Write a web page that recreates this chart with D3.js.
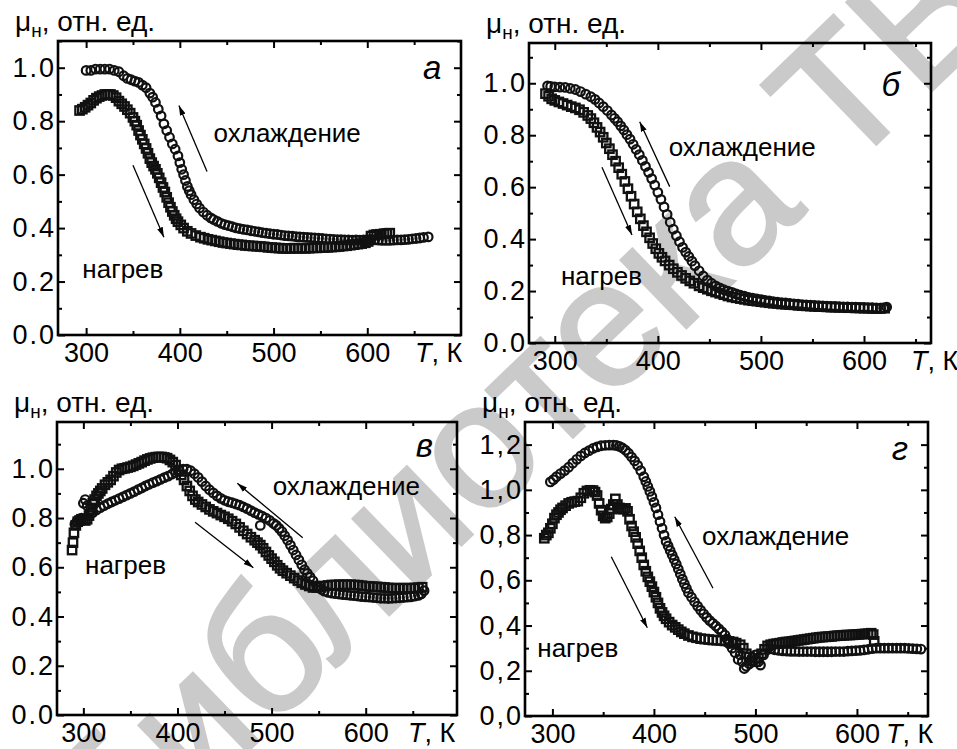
<!DOCTYPE html>
<html>
<head>
<meta charset="utf-8">
<script src="https://cdn.jsdelivr.net/npm/d3@7"></script>
<style>
  body { margin: 0; background: #fff; }
  svg { font-family: "Liberation Sans", Arial, sans-serif; }
</style>
</head>
<body>
<svg id="chart" width="957" height="749"></svg>
<script>
// ---- data: [T (K), mu_n (rel. units)] ----
// panel а
const aHeat = [[293,0.84],[296,0.845],[299,0.852],[302,0.86],[305,0.868],[308,0.878],[311,0.886],[314,0.892],[317,0.896],[320,0.9],[323,0.9],[326,0.9],[329,0.896],[332,0.888],[335,0.875],[338,0.865],[341,0.855],[344,0.843],[347,0.83],[350,0.814],[352,0.8],[354,0.785],[356,0.765],[358,0.748],[360,0.732],[362,0.715],[364,0.698],[366,0.68],[368,0.66],[370,0.645],[372,0.632],[374,0.62],[376,0.605],[378,0.588],[380,0.57],[382,0.552],[384,0.535],[386,0.515],[388,0.495],[390,0.478],[392,0.462],[394,0.448],[396,0.435],[398,0.424],[401,0.412],[404,0.4],[408,0.388],[412,0.38],[417,0.372],[422,0.366],[426,0.362],[430,0.358],[434,0.355],[438,0.352],[442,0.349],[446,0.346],[450,0.344],[454,0.342],[458,0.34],[462,0.338],[466,0.337],[470,0.335],[474,0.334],[478,0.333],[482,0.332],[486,0.331],[490,0.33],[494,0.328],[498,0.327],[502,0.326],[506,0.325],[510,0.324],[514,0.324],[518,0.324],[522,0.325],[526,0.324],[530,0.325],[534,0.324],[538,0.325],[542,0.326],[546,0.326],[550,0.327],[554,0.327],[558,0.328],[562,0.329],[566,0.33],[570,0.331],[574,0.333],[578,0.334],[582,0.336],[586,0.338],[590,0.34],[594,0.342],[598,0.345],[601,0.35],[604,0.37],[607,0.374],[610,0.376],[614,0.377],[618,0.379],[621,0.38],[624,0.381]];
const aCool = [[300,0.99],[305,0.99],[310,0.995],[315,0.995],[320,0.995],[325,0.995],[330,0.99],[335,0.985],[340,0.97],[344,0.96],[348,0.955],[352,0.95],[356,0.945],[360,0.935],[364,0.925],[368,0.905],[371,0.89],[374,0.87],[377,0.845],[380,0.82],[383,0.79],[386,0.765],[389,0.74],[392,0.715],[395,0.695],[398,0.67],[400,0.645],[402,0.62],[404,0.6],[406,0.578],[408,0.556],[410,0.54],[412,0.525],[415,0.506],[418,0.49],[421,0.475],[425,0.46],[429,0.448],[433,0.438],[436,0.432],[440,0.425],[444,0.418],[448,0.413],[452,0.409],[456,0.405],[460,0.401],[464,0.398],[468,0.395],[472,0.393],[476,0.39],[480,0.388],[484,0.386],[488,0.383],[492,0.381],[496,0.379],[500,0.377],[504,0.376],[508,0.374],[512,0.372],[516,0.371],[520,0.37],[524,0.368],[528,0.367],[532,0.366],[536,0.365],[540,0.364],[544,0.363],[548,0.362],[552,0.361],[556,0.36],[560,0.359],[564,0.358],[568,0.357],[572,0.357],[576,0.356],[580,0.356],[584,0.355],[588,0.356],[592,0.355],[596,0.356],[600,0.357],[604,0.358],[608,0.356],[612,0.355],[616,0.354],[620,0.354],[624,0.354],[628,0.355],[632,0.356],[636,0.356],[640,0.357],[644,0.358],[648,0.36],[652,0.361],[656,0.363],[660,0.365],[665,0.367]];
// panel б
const bHeat = [[291,0.96],[294,0.95],[297,0.94],[300,0.934],[304,0.928],[308,0.922],[312,0.916],[316,0.91],[320,0.905],[324,0.898],[328,0.888],[332,0.876],[335,0.864],[338,0.848],[341,0.83],[344,0.812],[347,0.792],[350,0.77],[353,0.748],[356,0.725],[359,0.7],[362,0.675],[365,0.65],[368,0.622],[371,0.594],[374,0.565],[377,0.535],[380,0.505],[383,0.478],[386,0.452],[389,0.428],[392,0.405],[395,0.383],[398,0.363],[401,0.345],[404,0.33],[407,0.316],[411,0.3],[415,0.286],[419,0.272],[423,0.26],[427,0.249],[431,0.239],[435,0.23],[440,0.22],[444,0.213],[448,0.207],[452,0.201],[456,0.196],[460,0.191],[464,0.186],[468,0.181],[472,0.177],[476,0.174],[480,0.171],[484,0.168],[488,0.165],[492,0.163],[496,0.161],[500,0.159],[504,0.157],[508,0.155],[512,0.153],[516,0.152],[520,0.15],[524,0.149],[528,0.148],[532,0.147],[536,0.145],[540,0.144],[544,0.143],[548,0.142],[552,0.141],[556,0.14],[560,0.14],[564,0.139],[568,0.138],[572,0.138],[576,0.137],[580,0.137],[584,0.136],[588,0.136],[592,0.135],[596,0.135],[600,0.134],[604,0.134],[608,0.133],[612,0.133],[616,0.133],[620,0.134]];
const bCool = [[293,0.99],[296,0.988],[300,0.986],[305,0.985],[310,0.984],[315,0.98],[320,0.976],[325,0.968],[330,0.958],[335,0.948],[339,0.938],[343,0.924],[347,0.91],[351,0.895],[355,0.878],[358,0.865],[361,0.852],[364,0.836],[367,0.82],[370,0.802],[373,0.785],[376,0.765],[379,0.745],[382,0.725],[385,0.703],[388,0.68],[391,0.657],[394,0.633],[397,0.608],[400,0.58],[403,0.553],[406,0.524],[409,0.495],[412,0.465],[415,0.438],[418,0.413],[421,0.39],[424,0.368],[427,0.35],[430,0.333],[433,0.315],[436,0.298],[440,0.278],[444,0.258],[448,0.242],[452,0.23],[456,0.22],[460,0.212],[464,0.205],[468,0.2],[472,0.195],[476,0.189],[480,0.184],[484,0.18],[488,0.176],[492,0.173],[496,0.17],[500,0.167],[504,0.164],[508,0.162],[512,0.159],[516,0.157],[520,0.155],[524,0.154],[528,0.152],[532,0.151],[536,0.15],[540,0.148],[544,0.147],[548,0.146],[552,0.145],[556,0.144],[560,0.143],[564,0.142],[568,0.141],[572,0.141],[576,0.14],[580,0.139],[584,0.139],[588,0.138],[592,0.138],[596,0.137],[600,0.137],[604,0.136],[608,0.136],[612,0.135],[616,0.134],[619,0.135],[622,0.138]];
// panel в
const vHeat = [[288,0.67],[289,0.7],[290,0.74],[292,0.77],[294,0.785],[296,0.79],[298,0.795],[300,0.795],[302,0.79],[304,0.795],[306,0.81],[308,0.835],[310,0.86],[312,0.875],[314,0.89],[316,0.9],[318,0.91],[320,0.92],[323,0.935],[326,0.945],[329,0.955],[332,0.97],[335,0.985],[338,0.995],[341,1.0],[344,1.002],[347,1.005],[350,1.008],[353,1.012],[356,1.017],[359,1.022],[362,1.027],[365,1.033],[368,1.038],[371,1.042],[374,1.045],[377,1.047],[380,1.048],[383,1.048],[386,1.046],[389,1.043],[392,1.036],[395,1.027],[398,1.015],[401,0.995],[404,0.975],[407,0.955],[410,0.93],[413,0.91],[416,0.89],[419,0.875],[422,0.865],[426,0.855],[430,0.845],[434,0.835],[438,0.827],[442,0.82],[446,0.812],[450,0.805],[454,0.797],[458,0.787],[462,0.776],[466,0.762],[470,0.748],[474,0.735],[478,0.722],[482,0.71],[485,0.7],[488,0.69],[491,0.677],[494,0.662],[497,0.648],[500,0.635],[503,0.622],[506,0.608],[509,0.596],[512,0.586],[516,0.576],[520,0.566],[524,0.556],[528,0.546],[532,0.537],[536,0.53],[540,0.524],[544,0.518],[548,0.518],[552,0.521],[556,0.524],[560,0.526],[564,0.528],[568,0.528],[572,0.529],[576,0.529],[580,0.529],[584,0.529],[588,0.528],[592,0.527],[596,0.525],[600,0.523],[604,0.522],[608,0.521],[612,0.52],[616,0.519],[620,0.518],[624,0.516],[628,0.515],[632,0.515],[636,0.515],[640,0.515],[644,0.515],[648,0.515],[652,0.516],[656,0.517],[660,0.519]];
const vCool = [[662,0.505],[659,0.492],[656,0.486],[652,0.483],[648,0.48],[644,0.479],[640,0.477],[636,0.476],[632,0.475],[628,0.474],[624,0.473],[620,0.474],[616,0.474],[612,0.476],[608,0.477],[604,0.479],[600,0.48],[596,0.481],[592,0.483],[588,0.485],[584,0.486],[580,0.488],[576,0.489],[572,0.491],[568,0.493],[564,0.495],[560,0.498],[556,0.503],[553,0.51],[550,0.517],[548,0.525],[544,0.545],[541,0.56],[538,0.575],[535,0.59],[532,0.61],[529,0.63],[526,0.65],[523,0.67],[520,0.69],[517,0.71],[514,0.728],[511,0.745],[508,0.758],[505,0.77],[502,0.778],[498,0.79],[494,0.8],[490,0.808],[488,0.77],[486,0.815],[482,0.822],[478,0.83],[474,0.838],[470,0.845],[466,0.852],[462,0.857],[458,0.862],[454,0.866],[450,0.872],[446,0.88],[442,0.89],[438,0.902],[434,0.915],[430,0.93],[426,0.948],[422,0.965],[418,0.98],[414,0.992],[410,0.998],[406,0.998],[402,0.992],[398,0.985],[394,0.978],[390,0.97],[386,0.964],[382,0.957],[378,0.95],[374,0.944],[370,0.937],[366,0.93],[362,0.922],[358,0.915],[354,0.907],[350,0.9],[346,0.893],[342,0.886],[338,0.879],[334,0.872],[330,0.865],[326,0.858],[322,0.85],[318,0.842],[314,0.833],[310,0.822],[307,0.82],[304,0.85],[302,0.875],[300,0.86],[298,0.8],[296,0.795],[293,0.785],[291,0.775]];
// panel г
const gHeat = [[292,0.786],[294,0.8],[296,0.81],[298,0.83],[300,0.85],[302,0.875],[304,0.89],[306,0.9],[308,0.912],[310,0.92],[313,0.93],[316,0.94],[319,0.945],[322,0.948],[325,0.95],[328,0.965],[331,0.985],[334,0.995],[337,0.998],[340,0.997],[342,0.99],[344,0.975],[346,0.94],[348,0.91],[350,0.885],[352,0.875],[354,0.88],[356,0.895],[358,0.915],[360,0.935],[362,0.96],[364,0.935],[366,0.92],[368,0.915],[370,0.915],[372,0.918],[374,0.905],[376,0.87],[378,0.84],[380,0.815],[382,0.79],[384,0.762],[386,0.73],[388,0.7],[390,0.668],[392,0.64],[394,0.615],[396,0.594],[398,0.572],[400,0.548],[402,0.525],[404,0.5],[406,0.476],[408,0.458],[410,0.443],[412,0.43],[415,0.415],[418,0.402],[421,0.392],[424,0.382],[427,0.372],[430,0.364],[434,0.356],[438,0.35],[442,0.346],[446,0.342],[450,0.34],[454,0.338],[458,0.336],[462,0.335],[466,0.334],[470,0.332],[474,0.33],[478,0.327],[481,0.322],[485,0.315],[488,0.3],[491,0.275],[494,0.26],[497,0.245],[500,0.24],[503,0.255],[506,0.275],[509,0.295],[512,0.31],[515,0.315],[518,0.318],[521,0.32],[524,0.322],[527,0.325],[530,0.327],[533,0.328],[536,0.33],[539,0.332],[542,0.334],[545,0.336],[548,0.338],[551,0.34],[554,0.342],[557,0.344],[560,0.346],[563,0.348],[566,0.349],[569,0.35],[572,0.351],[575,0.352],[578,0.354],[581,0.355],[584,0.356],[587,0.357],[590,0.358],[593,0.358],[596,0.359],[599,0.36],[602,0.361],[605,0.362],[608,0.363],[611,0.364],[614,0.366],[616,0.36],[617,0.33]];
const gCool = [[663,0.296],[659,0.297],[655,0.298],[651,0.299],[647,0.3],[643,0.3],[639,0.3],[635,0.3],[631,0.3],[627,0.3],[623,0.3],[619,0.3],[615,0.298],[611,0.295],[607,0.292],[603,0.29],[599,0.289],[595,0.288],[591,0.287],[587,0.285],[583,0.285],[579,0.285],[575,0.284],[571,0.284],[567,0.284],[563,0.284],[559,0.284],[555,0.285],[551,0.285],[547,0.285],[543,0.285],[539,0.286],[535,0.286],[531,0.287],[527,0.288],[523,0.29],[519,0.293],[515,0.297],[512,0.3],[508,0.27],[505,0.225],[503,0.24],[500,0.27],[497,0.26],[494,0.23],[491,0.22],[489,0.21],[487,0.24],[485,0.27],[483,0.25],[480,0.28],[477,0.3],[474,0.32],[472,0.34],[470,0.358],[467,0.372],[464,0.385],[461,0.398],[458,0.41],[455,0.422],[452,0.436],[449,0.452],[446,0.468],[443,0.486],[440,0.505],[437,0.525],[434,0.545],[432,0.565],[430,0.585],[428,0.605],[426,0.628],[424,0.65],[422,0.672],[420,0.692],[418,0.712],[416,0.732],[414,0.752],[412,0.772],[410,0.8],[408,0.83],[406,0.86],[404,0.89],[402,0.92],[400,0.945],[398,0.97],[396,0.993],[394,1.015],[392,1.037],[390,1.058],[387,1.085],[384,1.108],[381,1.128],[378,1.145],[375,1.162],[372,1.175],[369,1.185],[366,1.192],[363,1.196],[360,1.198],[356,1.198],[352,1.197],[348,1.195],[344,1.19],[340,1.183],[336,1.173],[332,1.163],[328,1.15],[324,1.135],[320,1.118],[316,1.1],[312,1.085],[308,1.072],[304,1.058],[301,1.045],[298,1.035]];

// ---- ticks ----
const xMajor = [300, 400, 500, 600];
const xMinor = [350, 450, 550, 650];
const yMajor = [0, 0.2, 0.4, 0.6, 0.8, 1.0];
const yMajorG = [0, 0.2, 0.4, 0.6, 0.8, 1.0, 1.2];
const yMinor = [0.1, 0.3, 0.5, 0.7, 0.9, 1.1];

const panels = [
  { box: [58, 41, 461, 335], xDom: [270, 700], yDom: [0, 1.1], yMajor: yMajor, sep: ".",
    letter: ["а", 679, 0.956], heat: aHeat, cool: aCool,
    cText: [436, 0.721], hText: [296, 0.214],
    cArrow: [[429, 0.612], [399, 0.859]], hArrow: [[350, 0.635], [383, 0.366]], tk: -46 },
  { box: [529, 43, 931, 343], xDom: [275, 665], yDom: [0, 1.155], yMajor: yMajor, sep: ".",
    letter: ["б", 635, 0.951], heat: bHeat, cool: bCool,
    cText: [410.5, 0.72], hText: [306, 0.223],
    cArrow: [[411.5, 0.602], [382.4, 0.852]], hArrow: [[345.8, 0.677], [374.9, 0.416]], tk: -20 },
  { box: [57, 422, 457, 715], xDom: [272, 697], yDom: [0, 1.19], yMajor: yMajor, sep: ".",
    letter: ["в", 671.6, 1.049], heat: vHeat, cool: vCool,
    cText: [501.2, 0.894], hText: [301.8, 0.571],
    cArrow: [[533.1, 0.72], [463.6, 0.941]], hArrow: [[418.7, 0.783], [480.6, 0.598]], tk: -49 },
  { box: [525, 422, 928, 716], xDom: [273, 670], yDom: [0, 1.3], yMajor: yMajorG, sep: ",",
    letter: ["г", 650.3, 1.132], heat: gHeat, cool: gCool,
    cText: [447.4, 0.756], hText: [285.1, 0.262],
    cArrow: [[458.2, 0.565], [420.5, 0.881]], hArrow: [[358, 0.704], [393.5, 0.39]], tk: -42 }
];

const svg = d3.select("#chart");
svg.append("rect").attr("width", 957).attr("height", 749).attr("fill", "#fff");

// faint diagonal watermark of the source library, centred on its letter "е"
const wmSize = 178, wmAngle = -44;
const wm = svg.append("text")
  .attr("font-size", wmSize).attr("fill", "#cacaca")
  .attr("stroke", "#cacaca").attr("stroke-width", 3)
  .text("Библиотека ТВГУ");
let off = 700;
try {
  off = wm.node().getSubStringLength(0, 7) + wm.node().getSubStringLength(7, 1) / 2;
} catch (e) {}
const rad = wmAngle * Math.PI / 180;
const down = 0.26 * wmSize;              // from glyph centre down to baseline
const bx = 610 - Math.sin(rad) * down, by = 337 + Math.cos(rad) * down;
wm.attr("x", -off).attr("transform", `translate(${bx},${by}) rotate(${wmAngle})`);

svg.append("defs").append("marker")
  .attr("id", "ah").attr("viewBox", "0 0 10 10")
  .attr("refX", 10).attr("refY", 5)
  .attr("markerWidth", 10).attr("markerHeight", 10)
  .attr("markerUnits", "userSpaceOnUse").attr("orient", "auto")
  .append("path").attr("d", "M0,2 L10,5 L0,8 Z").attr("fill", "#000");

panels.forEach(p => {
  const [l, t, r, b] = p.box;
  const x = d3.scaleLinear().domain(p.xDom).range([l, r]);
  const y = d3.scaleLinear().domain(p.yDom).range([b, t]);
  const fmt = v => d3.format(".1f")(v).replace(".", p.sep);
  const g = svg.append("g");

  const axes = [
    [d3.axisBottom(x).tickValues(xMajor).tickSize(-7).tickPadding(8).tickFormat(d3.format("d")), `translate(0,${b})`],
    [d3.axisBottom(x).tickValues(xMinor).tickSize(-4).tickFormat(""), `translate(0,${b})`],
    [d3.axisTop(x).tickValues(xMajor).tickSize(-7).tickFormat(""), `translate(0,${t})`],
    [d3.axisTop(x).tickValues(xMinor).tickSize(-4).tickFormat(""), `translate(0,${t})`],
    [d3.axisLeft(y).tickValues(p.yMajor).tickSize(-7).tickPadding(2).tickFormat(fmt), `translate(${l},0)`],
    [d3.axisLeft(y).tickValues(yMinor).tickSize(-4).tickFormat(""), `translate(${l},0)`],
    [d3.axisRight(y).tickValues(p.yMajor).tickSize(-7).tickFormat(""), `translate(${r},0)`],
    [d3.axisRight(y).tickValues(yMinor).tickSize(-4).tickFormat(""), `translate(${r},0)`]
  ];
  axes.forEach(([ax, tr], i) => {
    const a = g.append("g").attr("transform", tr).call(ax);
    a.select(".domain").remove();
    a.selectAll("line").attr("stroke", "#000").attr("stroke-width", 2);
    a.selectAll("text").attr("font-size", 27).attr("fill", "#000")
      .attr("font-family", "Liberation Sans, Arial, sans-serif");
    if (i === 4) a.selectAll("text").attr("letter-spacing", 2);
  });

  g.append("rect").attr("x", l).attr("y", t).attr("width", r - l).attr("height", b - t)
    .attr("fill", "none").attr("stroke", "#000").attr("stroke-width", 2.6);

  // heating: open squares
  g.append("g").selectAll("rect").data(p.heat).join("rect")
    .attr("x", d => x(d[0]) - 4.2).attr("y", d => y(d[1]) - 4.2)
    .attr("width", 8.4).attr("height", 8.4)
    .attr("fill", "none").attr("stroke", "#111").attr("stroke-width", 2.3);
  // cooling: open circles
  g.append("g").selectAll("circle").data(p.cool).join("circle")
    .attr("cx", d => x(d[0])).attr("cy", d => y(d[1])).attr("r", 4.3)
    .attr("fill", "none").attr("stroke", "#111").attr("stroke-width", 2.2);

  // arrows
  [p.cArrow, p.hArrow].forEach(ar => {
    g.append("line")
      .attr("x1", x(ar[0][0])).attr("y1", y(ar[0][1]))
      .attr("x2", x(ar[1][0])).attr("y2", y(ar[1][1]))
      .attr("stroke", "#000").attr("stroke-width", 1.3).attr("marker-end", "url(#ah)");
  });

  g.append("text").attr("x", x(p.cText[0])).attr("y", y(p.cText[1]))
    .attr("font-size", 26).text("охлаждение");
  g.append("text").attr("x", x(p.hText[0])).attr("y", y(p.hText[1]))
    .attr("font-size", 26).text("нагрев");
  g.append("text").attr("x", x(p.letter[1])).attr("y", y(p.letter[2]))
    .attr("text-anchor", "end").attr("font-size", 33).attr("font-style", "italic")
    .text(p.letter[0]);

  // axis titles
  const tk = g.append("text").attr("x", r + p.tk).attr("y", b + 27).attr("font-size", 27);
  tk.append("tspan").attr("font-style", "italic").text("T");
  tk.append("tspan").text(", К");

  const yt = g.append("text").attr("x", l - 43).attr("y", t - 10).attr("font-size", 28);
  yt.append("tspan").text("μ");
  yt.append("tspan").attr("font-size", 19).attr("dy", 6).text("н");
  yt.append("tspan").attr("dy", -6).text(", отн. ед.");
});
</script>
</body>
</html>
